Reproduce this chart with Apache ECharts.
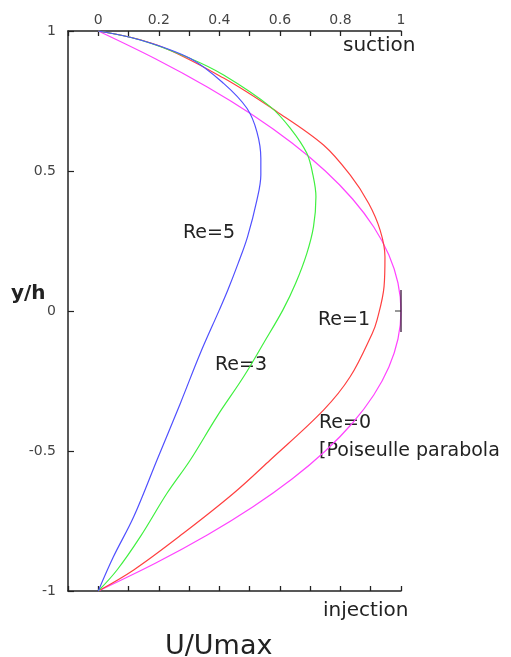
<!DOCTYPE html>
<html><head><meta charset="utf-8">
<script src="https://cdn.jsdelivr.net/npm/echarts@6/dist/echarts.min.js"></script>
<style>html,body{margin:0;padding:0;background:#fff}#c{width:511px;height:657px}</style>
</head><body><div id="c"></div>
<script>
// Velocity profiles U/Umax vs y/h
const yRe5 = [1, 0.968, 0.902, 0.813, 0.724, 0.640, 0.545, 0.486, 0.396, 0.265, 0.170, 0.075, 0.004, -0.151, -0.330, -0.532, -0.735, -0.878, -1];
const uRe5 = [0, 0.139, 0.304, 0.414, 0.491, 0.524, 0.537, 0.537, 0.524, 0.493, 0.462, 0.428, 0.400, 0.337, 0.271, 0.194, 0.117, 0.050, 0];

const yRe3 = [1, 0.968, 0.902, 0.843, 0.730, 0.653, 0.563, 0.486, 0.408, 0.301, 0.206, 0.099, 0.004, -0.115, -0.235, -0.377, -0.532, -0.651, -0.806, -0.925, -1];
const uRe3 = [0, 0.139, 0.304, 0.414, 0.568, 0.634, 0.689, 0.709, 0.719, 0.711, 0.689, 0.652, 0.610, 0.546, 0.480, 0.392, 0.304, 0.227, 0.139, 0.062, 0];

const yRe1 = [1, 0.950, 0.832, 0.712, 0.593, 0.486, 0.385, 0.289, 0.194, 0.087, -0.032, -0.080, -0.235, -0.354, -0.532, -0.651, -0.794, -0.925, -1];
const uRe1 = [0, 0.194, 0.414, 0.590, 0.744, 0.832, 0.893, 0.931, 0.947, 0.944, 0.921, 0.905, 0.832, 0.744, 0.568, 0.447, 0.281, 0.117, 0];

const yRe0 = [1, 0.9, 0.8, 0.7, 0.6, 0.5, 0.4, 0.3, 0.2, 0.1, 0, -0.1, -0.2, -0.3, -0.4, -0.5, -0.6, -0.7, -0.8, -0.9, -1];
const uRe0 = [0, 0.19, 0.36, 0.51, 0.64, 0.75, 0.84, 0.91, 0.96, 0.99, 1, 0.99, 0.96, 0.91, 0.84, 0.75, 0.64, 0.51, 0.36, 0.19, 0];

const xTickLabels = ['0', '0.2', '0.4', '0.6', '0.8', '1'];
const yTickLabels = ['-1', '-0.5', '0', '0.5', '1'];

const bracketY = [0.075, -0.075];
const bracketU = [1, 1];
const bracketTickY = [0, 0];
const bracketTickU = [0.98, 1];

function pairs(u, y) { return u.map((v, i) => [v, y[i]]); }

const font = 'DejaVu Sans';
const chart = echarts.init(document.getElementById('c'), null, {renderer: 'canvas'});
const axisLine = {show: true, onZero: false, lineStyle: {color: '#222', width: 1.5}};
const tick = {show: true, inside: true, length: 5, lineStyle: {color: '#222', width: 1.3}};

function lineSeries(name, u, y, color) {
  return {
    name, type: 'line', data: pairs(u, y), smooth: 0.35, showSymbol: false,
    lineStyle: {color, width: 1.2}, xAxisIndex: 0, yAxisIndex: 0, z: 3
  };
}

function label(text, left, center, size, extra) {
  return {type: 'text', left, top: center - Math.round(size * 0.45),
    style: {text, font: (extra || '') + size + 'px "DejaVu Sans"', fill: '#222'}};
}

chart.setOption({
  animation: false,
  backgroundColor: '#fff',
  grid: {left: 68, right: 110, top: 31, bottom: 66, containLabel: false},
  xAxis: [
    {type: 'value', position: 'top', min: -0.1, max: 1, interval: 0.1,
     axisLine, axisTick: tick, splitLine: {show: false},
     axisLabel: {margin: 4, color: '#444', fontFamily: font, fontSize: 14,
       formatter: v => { const k = Math.round(v * 10); return (k >= 0 && k % 2 === 0) ? xTickLabels[k / 2] : ''; }}},
    {type: 'value', position: 'bottom', min: -0.1, max: 1, interval: 0.1,
     axisLine, axisTick: tick, splitLine: {show: false}, axisLabel: {show: false}}
  ],
  yAxis: [
    {type: 'value', min: -1, max: 1, interval: 0.5, position: 'left',
     axisLine, axisTick: {show: true, inside: true, length: 6, lineStyle: {color: '#222', width: 1.2}},
     splitLine: {show: false},
     axisLabel: {margin: 12, color: '#444', fontFamily: font, fontSize: 14,
       formatter: v => yTickLabels[Math.round((v + 1) * 2)]}}
  ],
  series: [
    lineSeries('Re=0', uRe0, yRe0, '#ff44ff'),
    lineSeries('Re=1', uRe1, yRe1, '#ff4040'),
    lineSeries('Re=3', uRe3, yRe3, '#40f040'),
    lineSeries('Re=5', uRe5, yRe5, '#5050ff'),
    {type: 'line', data: pairs(bracketU, bracketY), showSymbol: false,
     lineStyle: {color: '#553355', width: 1.5}, z: 4},
    {type: 'line', data: pairs(bracketTickU, bracketTickY), showSymbol: false,
     lineStyle: {color: '#333', width: 1.2}, z: 4}
  ],
  graphic: [
    label('Re=5', 183, 233, 19),
    label('Re=3', 215, 365, 19),
    label('Re=1', 318, 320, 19),
    label('Re=0', 319, 423, 19),
    label('[Poiseulle parabola', 319, 451, 19),
    label('suction', 343, 45, 20),
    label('injection', 323, 610, 20),
    label('U/Umax', 165, 645, 27),
    label('y/h', 11, 293, 20, 'bold ')
  ]
});
</script></body></html>
